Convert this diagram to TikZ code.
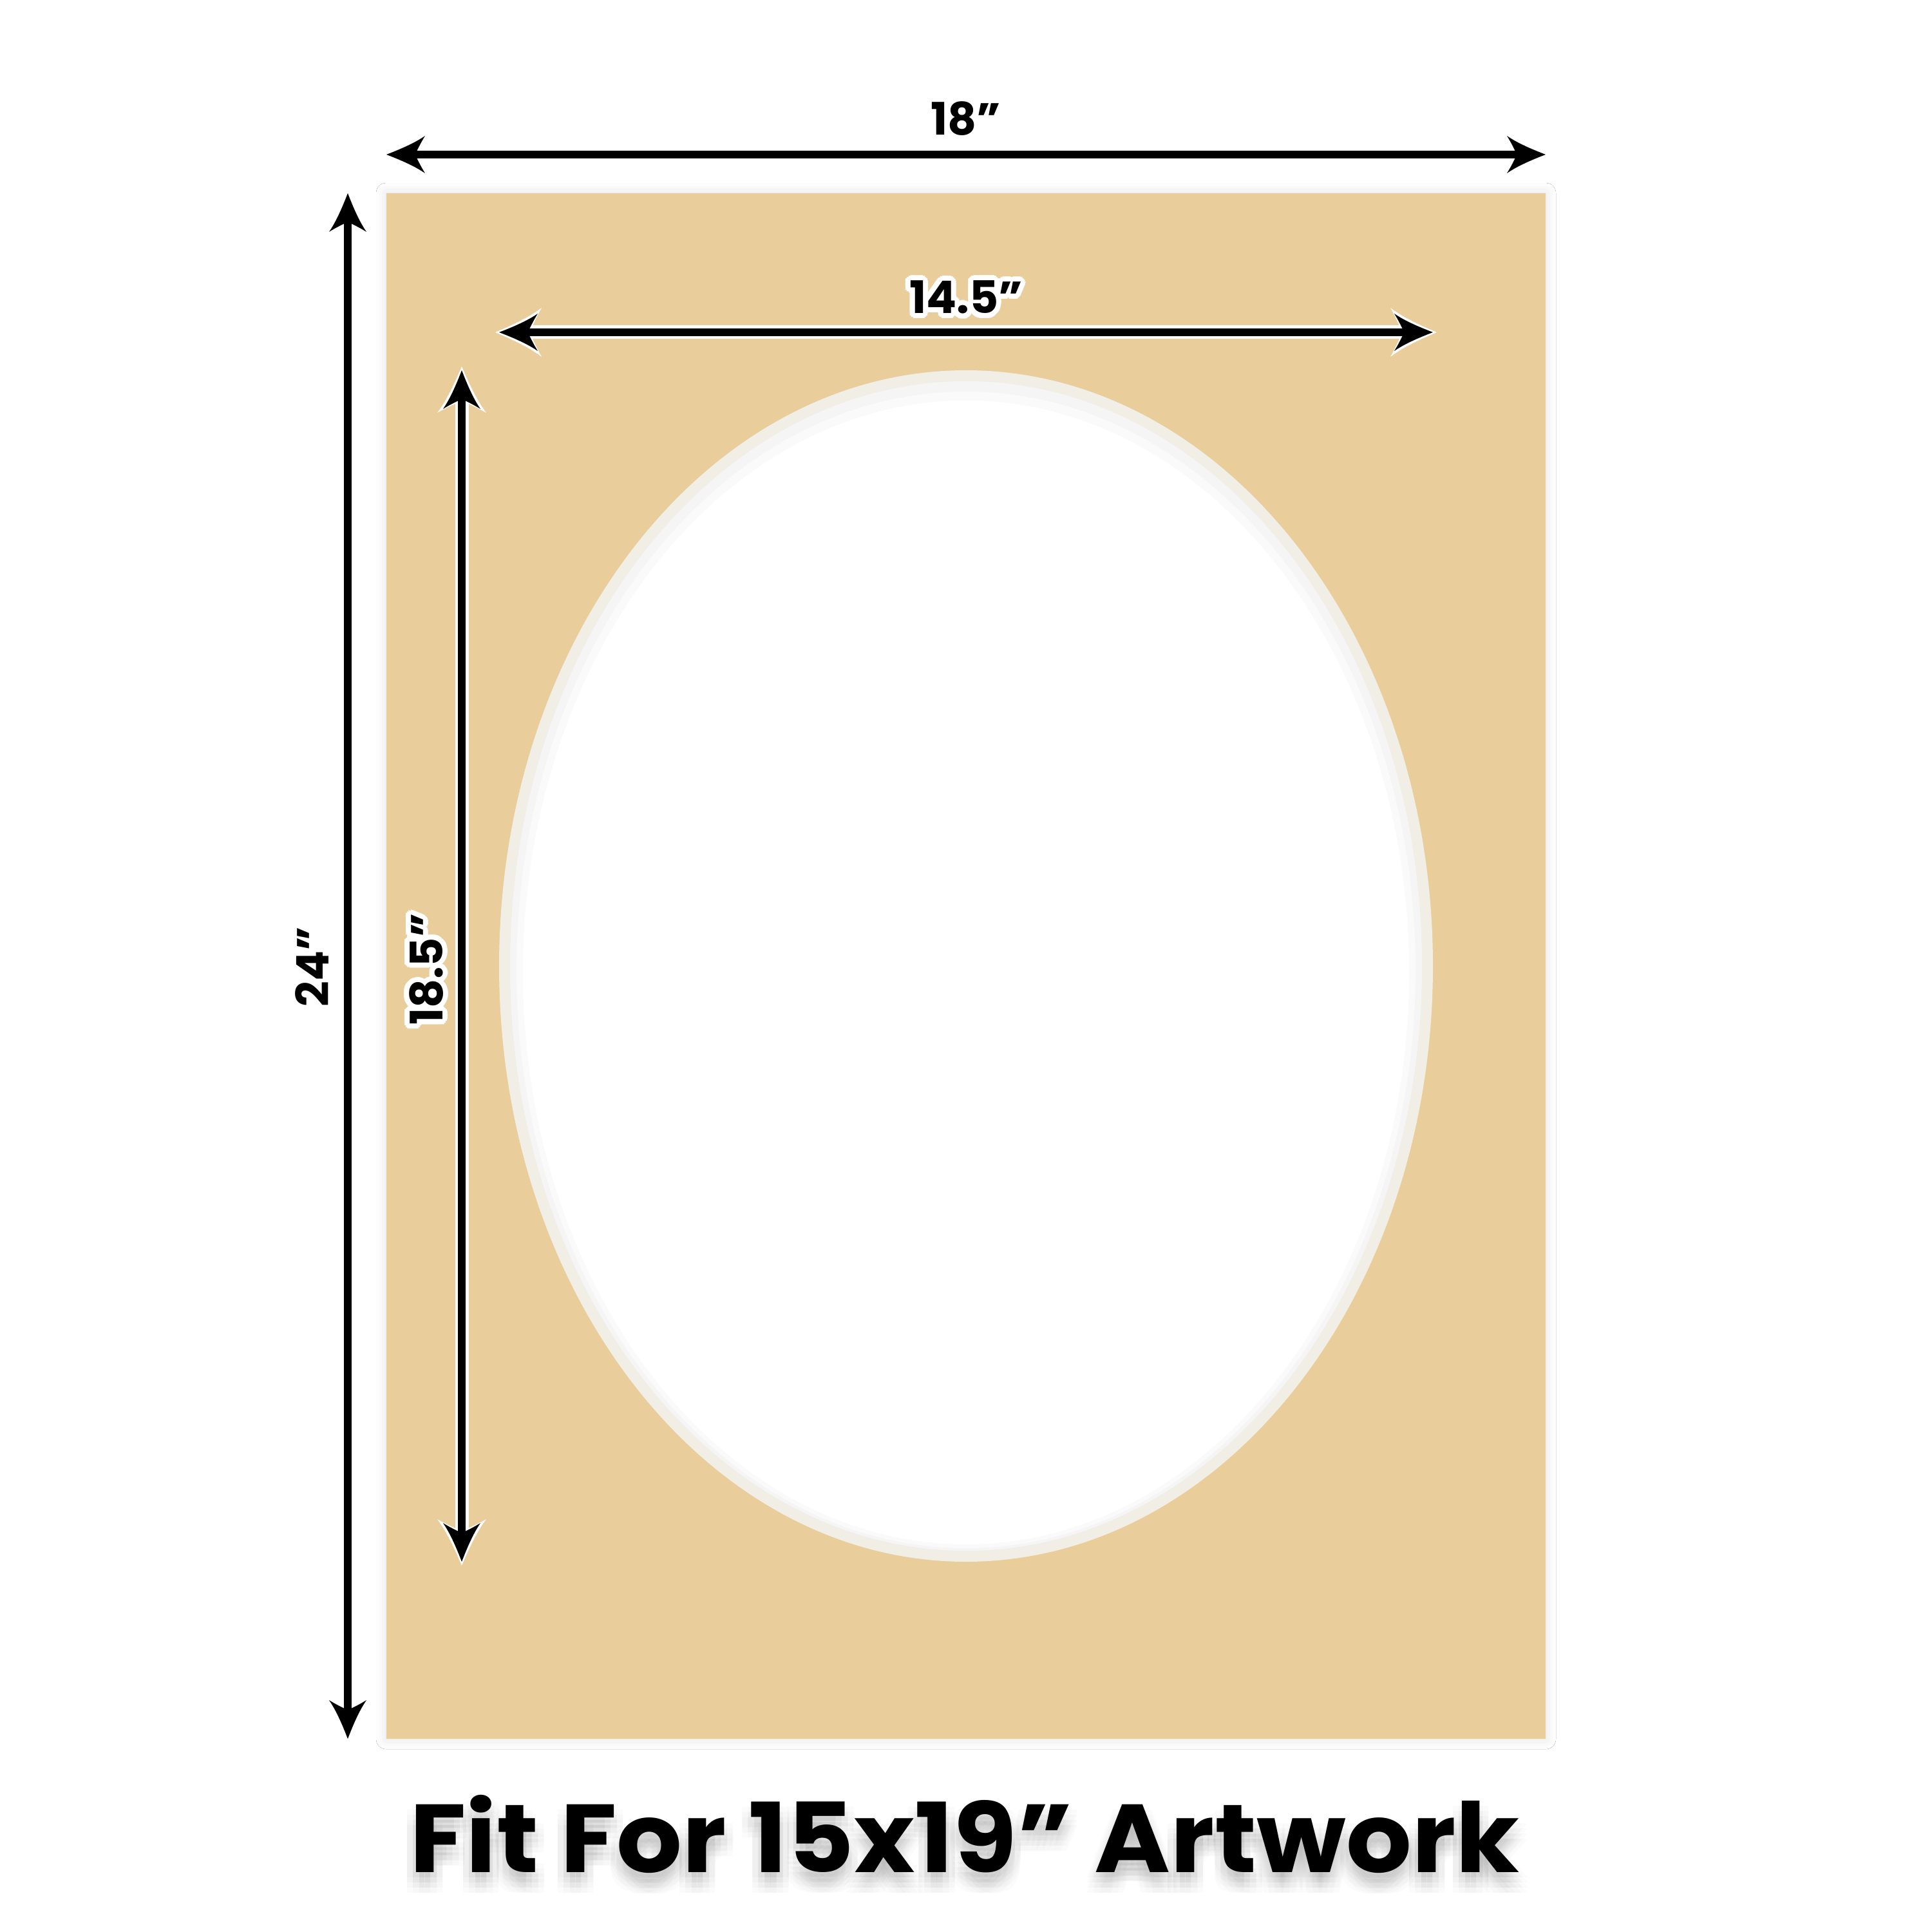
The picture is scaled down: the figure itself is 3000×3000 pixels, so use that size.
\documentclass[tikz,border=0pt]{standalone}
\usepackage{fontspec}
\setmainfont{Poppins}
\usetikzlibrary{arrows.meta,shadows.blur,calc}

\pgfdeclarearrow{
  name = Barb,
  parameters = {\the\pgfarrowlength,\the\pgfarrowwidth},
  setup code = {
    \pgfarrowssettipend{0pt}
    \pgfarrowssetlineend{-.66\pgfarrowlength}
    \pgfarrowssetbackend{-\pgfarrowlength}
    \pgfarrowshullpoint{0pt}{0pt}
    \pgfarrowshullpoint{-\pgfarrowlength}{.5\pgfarrowwidth}
    \pgfarrowshullpoint{-\pgfarrowlength}{-.5\pgfarrowwidth}
    \pgfarrowssavethe\pgfarrowlength
    \pgfarrowssavethe\pgfarrowwidth
  },
  drawing code = {
    \pgfpathmoveto{\pgfpointorigin}
    \pgfpathcurveto{\pgfpoint{-.35\pgfarrowlength}{.14\pgfarrowwidth}}{\pgfpoint{-.72\pgfarrowlength}{.30\pgfarrowwidth}}{\pgfpoint{-\pgfarrowlength}{.5\pgfarrowwidth}}
    \pgfpathcurveto{\pgfpoint{-.88\pgfarrowlength}{.30\pgfarrowwidth}}{\pgfpoint{-.8\pgfarrowlength}{.12\pgfarrowwidth}}{\pgfpoint{-.74\pgfarrowlength}{0pt}}
    \pgfpathcurveto{\pgfpoint{-.8\pgfarrowlength}{-.12\pgfarrowwidth}}{\pgfpoint{-.88\pgfarrowlength}{-.30\pgfarrowwidth}}{\pgfpoint{-\pgfarrowlength}{-.5\pgfarrowwidth}}
    \pgfpathcurveto{\pgfpoint{-.72\pgfarrowlength}{-.30\pgfarrowwidth}}{\pgfpoint{-.35\pgfarrowlength}{-.14\pgfarrowwidth}}{\pgfpointorigin}
    \pgfpathclose
    \pgfusepathqfill
  },
  defaults = {length = 6mm, width = 5.8mm}
}

\definecolor{matc}{HTML}{E9CD9B}
\definecolor{bevelc}{HTML}{F1EEE6}

\tikzset{
  dimline/.style={line width=1.15mm, black, {Barb}-{Barb}},
  dimhalo/.style={line width=2.1mm, white,
    {Barb[length=7.2mm,width=7.6mm]}-{Barb[length=7.2mm,width=7.6mm]},
    shorten <=-0.6mm, shorten >=-0.6mm},
  lbl/.style={font=\fontsize{19.8pt}{24pt}\selectfont\bfseries, inner sep=0pt, anchor=base, text=black},
  halo/.style={lbl, text=white},
  title/.style={font=\fontsize{42.7pt}{50pt}\selectfont\bfseries, inner sep=0pt, anchor=base, text=black},
  titleshadow/.style={title, text=black, text opacity=0.014},
}
\newcommand{\ttltext}{\scalebox{1.067}[1]{Fit For 15x19” Artwork}}

\begin{document}
\begin{tikzpicture}[x=0.1mm, y=-0.1mm]
\useasboundingbox (0,0) rectangle (3000,3000);
\fill[white] (0,0) rectangle (3000,3000);

% mat board
\fill[matc, blur shadow={shadow xshift=0mm, shadow yshift=0mm, shadow blur radius=1.6mm, shadow opacity=12}]
  (600,300) rectangle (2400,2700);
% bevel and opening
\fill[bevelc] (1500,1500) ellipse [x radius=725, y radius=925];
\fill[white] (1500,1500) ellipse [x radius=708, y radius=908];
\begin{scope}
  \clip (1500,1500) ellipse [x radius=708, y radius=908];
  \draw[black, opacity=0.02, line width=4mm] (1500,1510) ellipse [x radius=708, y radius=908];
  \draw[black, opacity=0.02, line width=2mm] (1500,1506) ellipse [x radius=708, y radius=908];
\end{scope}

% dimension end points
\coordinate (t18a) at (600,240);
\coordinate (t18b) at (2400,240);
\coordinate (t24a) at (540,300);
\coordinate (t24b) at (540,2700);
\coordinate (t145a) at (775,516);
\coordinate (t145b) at (2225,516);
\coordinate (t185a) at (717,575);
\coordinate (t185b) at (717,2425);

% outer dimensions
\draw[dimline] (t18a) -- (t18b);
\draw[dimline] (t24b) -- (t24a);
\node[lbl] (l18) at (1500,210) {18”};
\node[lbl, rotate=90] (l24) at (510,1501) {24”};

% inner dimensions with white halo
\draw[dimhalo] (t145a) -- (t145b);
\draw[dimline] (t145a) -- (t145b);
\draw[dimhalo] (t185b) -- (t185a);
\draw[dimline] (t185b) -- (t185a);

\foreach \i in {0,...,15} {
  \node[halo] (h145o-\i) at ($(1500,487)+(\i*22.5:8)$) {14.5”};
  \node[halo, rotate=90] (h185o-\i) at ($(687,1505)+(\i*22.5:8)$) {18.5”};
}
\foreach \i in {0,...,7} {
  \node[halo] (h145i-\i) at ($(1500,487)+(\i*45+22.5:4)$) {14.5”};
  \node[halo, rotate=90] (h185i-\i) at ($(687,1505)+(\i*45+22.5:4)$) {18.5”};
}
\node[lbl] (l145) at (1500,487) {14.5”};
\node[lbl, rotate=90] (l185) at (687,1505) {18.5”};

% title with soft shadow
\foreach \dx in {-14,-5,5,14} {
  \foreach \dy in {8,16,24,32} {
    \node[titleshadow] (ts\dx\dy) at ($(1498,2907)+(\dx,\dy)$) {\ttltext};
  }
}
\node[title] (ttl) at (1498,2907) {\ttltext};
\end{tikzpicture}
\end{document}
